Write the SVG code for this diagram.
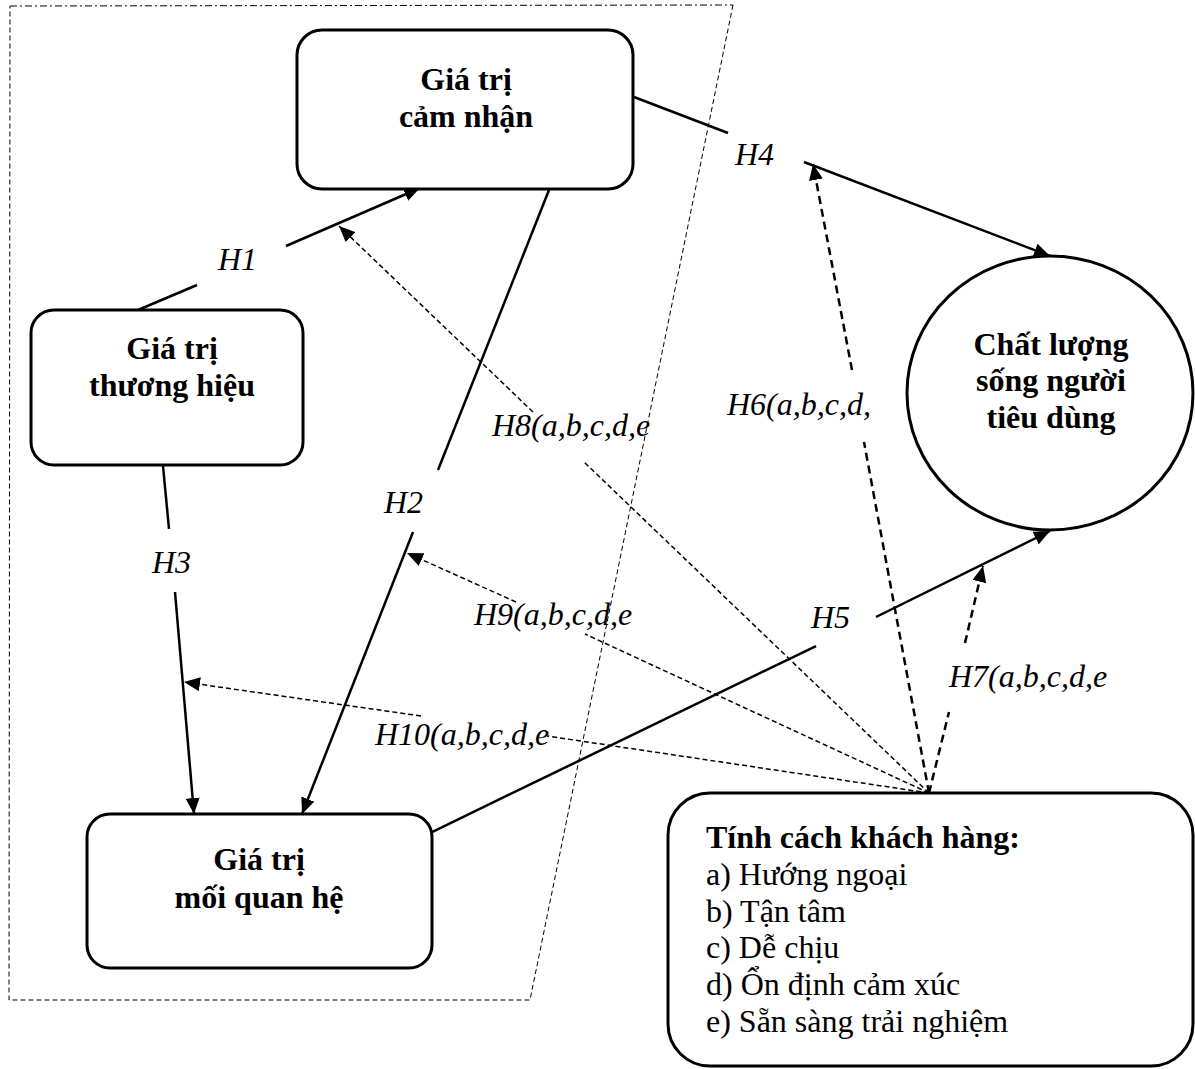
<svg xmlns="http://www.w3.org/2000/svg" width="1195" height="1069" viewBox="0 0 1195 1069">
  <style>
    .node { fill: #ffffff; stroke: #000000; stroke-width: 3; }
    .title { font-family: "Liberation Serif", "Times New Roman", serif; font-weight: bold; font-size: 32px; fill: #000000; text-anchor: middle; }
    .lbl { font-family: "Liberation Serif", "Times New Roman", serif; font-style: italic; font-size: 32px; fill: #000000; }
    .item { font-family: "Liberation Serif", "Times New Roman", serif; font-size: 32px; fill: #000000; }
    .solid { fill: none; stroke: #000000; stroke-width: 2.5; }
    .dash-thin { fill: none; stroke: #000000; stroke-width: 1.5; stroke-dasharray: 5 3; }
    .dash-thick { fill: none; stroke: #000000; stroke-width: 2.5; stroke-dasharray: 8 5; }
    .frame { fill: none; stroke: #000000; stroke-width: 1; stroke-dasharray: 5 3; }
    .frame-top { fill: none; stroke: #000000; stroke-width: 1; stroke-dasharray: 7 3 2 3; }
  </style>
  <defs>
    <marker id="arrow" markerUnits="userSpaceOnUse" markerWidth="18" markerHeight="14" refX="16" refY="7" orient="auto">
      <path d="M0,0 L16,7 L0,14 Z" fill="#000000"/>
    </marker>
  </defs>

  <!-- frame around the three value constructs -->
  <g id="frame">
    <polyline class="frame-top" points="10,6 733,5"/>
    <polyline class="frame" points="733,5 530,1000 9,1000 10,6"/>
  </g>

  <!-- connectors -->
  <g id="connectors">
    <!-- H1 -->
    <line class="solid" x1="138" y1="310" x2="197" y2="285"/>
    <line class="solid" x1="286" y1="246" x2="420" y2="188" marker-end="url(#arrow)"/>
    <!-- H2 -->
    <line class="solid" x1="549" y1="190" x2="438" y2="470"/>
    <line class="solid" x1="413" y1="532" x2="302" y2="814" marker-end="url(#arrow)"/>
    <!-- H3 -->
    <line class="solid" x1="163" y1="466" x2="169" y2="529"/>
    <line class="solid" x1="175" y1="592" x2="194" y2="814" marker-end="url(#arrow)"/>
    <!-- H4 -->
    <line class="solid" x1="634" y1="97" x2="728" y2="133"/>
    <line class="solid" x1="804" y1="162" x2="1050" y2="256" marker-end="url(#arrow)"/>
    <!-- H5 -->
    <line class="solid" x1="432" y1="832" x2="816" y2="646"/>
    <line class="solid" x1="876" y1="617" x2="1050" y2="531" marker-end="url(#arrow)"/>
    <!-- H6 -->
    <line class="dash-thick" x1="929" y1="793" x2="864" y2="442"/>
    <line class="dash-thick" x1="852" y1="370" x2="813" y2="164" marker-end="url(#arrow)"/>
    <!-- H7 -->
    <line class="dash-thick" x1="929" y1="793" x2="949" y2="712"/>
    <line class="dash-thick" x1="965" y1="643" x2="983" y2="566" marker-end="url(#arrow)"/>
    <!-- H8 -->
    <line class="dash-thin" x1="929" y1="793" x2="583" y2="461"/>
    <line class="dash-thin" x1="533" y1="412" x2="339" y2="226" marker-end="url(#arrow)"/>
    <!-- H9 -->
    <line class="dash-thin" x1="929" y1="793" x2="585" y2="634"/>
    <line class="dash-thin" x1="516" y1="602" x2="407" y2="553" marker-end="url(#arrow)"/>
    <!-- H10 -->
    <line class="dash-thin" x1="929" y1="793" x2="547" y2="736"/>
    <line class="dash-thin" x1="421" y1="716" x2="184" y2="682" marker-end="url(#arrow)"/>
  </g>

  <!-- hypothesis labels -->
  <g id="labels">
    <text class="lbl" x="218" y="270">H1</text>
    <text class="lbl" x="384" y="513">H2</text>
    <text class="lbl" x="152" y="573">H3</text>
    <text class="lbl" x="735" y="165">H4</text>
    <text class="lbl" x="811" y="628">H5</text>
    <text class="lbl" x="727" y="415">H6(a,b,c,d,</text>
    <text class="lbl" x="949" y="687">H7(a,b,c,d,e</text>
    <text class="lbl" x="492" y="436">H8(a,b,c,d,e</text>
    <text class="lbl" x="474" y="625">H9(a,b,c,d,e</text>
    <text class="lbl" x="375" y="745">H10(a,b,c,d,e</text>
  </g>

  <g id="perceived-value">
    <rect class="node" x="297" y="30" width="336" height="159" rx="25" ry="25"/>
    <text class="title" x="466" y="90">Giá trị</text>
    <text class="title" x="466" y="127">cảm nhận</text>
  </g>

  <g id="brand-value">
    <rect class="node" x="31" y="310" width="272" height="155" rx="23" ry="23"/>
    <text class="title" x="172" y="359">Giá trị</text>
    <text class="title" x="172" y="396">thương hiệu</text>
  </g>

  <g id="relationship-value">
    <rect class="node" x="87" y="814" width="345" height="154" rx="23" ry="23"/>
    <text class="title" x="259" y="870">Giá trị</text>
    <text class="title" x="259" y="908">mối quan hệ</text>
  </g>

  <g id="quality-of-life">
    <ellipse class="node" cx="1050" cy="393" rx="143" ry="137"/>
    <text class="title" x="1051" y="355">Chất lượng</text>
    <text class="title" x="1051" y="391">sống người</text>
    <text class="title" x="1051" y="428">tiêu dùng</text>
  </g>

  <g id="personality">
    <rect class="node" x="668" y="793" width="525" height="273" rx="42" ry="42"/>
    <text class="item" x="706" y="848" font-weight="bold">Tính cách khách hàng:</text>
    <text class="item" x="706" y="885">a) Hướng ngoại</text>
    <text class="item" x="706" y="922">b) Tận tâm</text>
    <text class="item" x="706" y="958">c) Dễ chịu</text>
    <text class="item" x="706" y="995">d) Ổn định cảm xúc</text>
    <text class="item" x="706" y="1032">e) Sẵn sàng trải nghiệm</text>
  </g>
</svg>
